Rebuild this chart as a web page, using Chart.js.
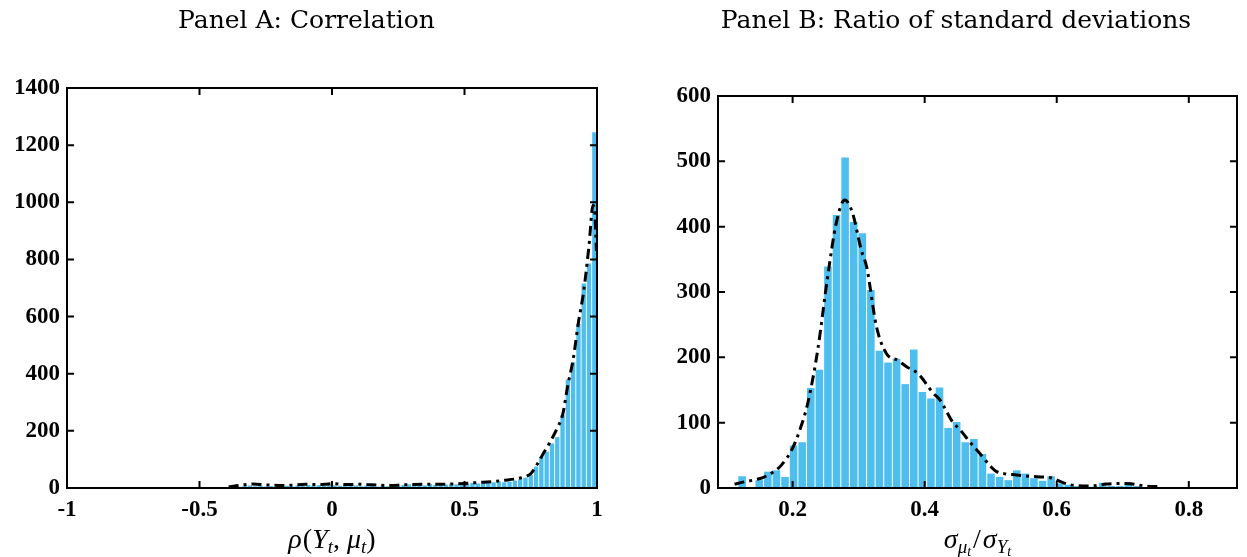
<!DOCTYPE html>
<html><head><meta charset="utf-8">
<script src="https://cdn.jsdelivr.net/npm/chart.js@4.4.0/dist/chart.umd.min.js"></script>
<style>
html,body{margin:0;padding:0;background:#fff;overflow:hidden;width:1247px;height:557px;}
#wrapA{position:absolute;left:0;top:0;width:620px;height:557px;}
#wrapB{position:absolute;left:660px;top:0;width:587px;height:557px;}
canvas{display:block;}
</style></head><body>
<div id="wrapA"><canvas id="cA" width="620" height="557"></canvas></div>
<div id="wrapB"><canvas id="cB" width="587" height="557"></canvas></div>
<script>
// ---------- Panel A: Correlation ----------
const binsA = [-0.39,-0.37,-0.35,-0.33,-0.31,-0.29,-0.27,-0.25,-0.23,-0.21,-0.19,-0.17,-0.15,-0.13,-0.11,-0.09,-0.07,-0.05,-0.03,-0.01,
  0.01,0.03,0.05,0.07,0.09,0.11,0.13,0.15,0.17,0.19,0.21,0.23,0.25,0.27,0.29,0.31,0.33,0.35,0.37,0.39,
  0.41,0.43,0.45,0.47,0.49,0.51,0.53,0.55,0.57,0.59,0.61,0.63,0.65,0.67,0.69,0.71,0.73,0.75,0.77,0.79,
  0.81,0.83,0.85,0.87,0.89,0.91,0.93,0.95,0.97,0.99];
const countsA = [3,5,4,7,9,6,8,5,7,4,
  6,8,5,9,7,11,8,10,7,12,
  9,8,11,7,9,6,8,7,5,8,
  6,4,9,11,13,10,12,9,14,11,
  13,12,15,13,17,14,18,16,19,21,
  20,23,20,22,26,30,36,45,75,110,
  127,156,178,255,380,440,575,716,786,1245];
const kdeXA = [-0.39,-0.35,-0.3,-0.25,-0.2,-0.15,-0.1,-0.05,0,0.05,0.1,0.15,0.2,0.25,0.3,0.35,0.4,0.45,0.5,0.55,0.6,0.65,0.7,0.73,0.75,0.78,0.8,0.82,0.85,0.87,0.89,0.91,0.93,0.95,0.97,0.985,0.992,0.998];
const kdeYA = [4,9,14,11,9,10,13,12,15,12,13,11,9,10,12,13,13,14,16,19,22,27,33,40,50,92,125,156,210,255,360,450,580,690,850,990,960,830];
const xTicksA = [-1,-0.5,0,0.5,1];
const xTickLabelsA = ['-1','-0.5','0','0.5','1'];
const yTicksA = [0,200,400,600,800,1000,1200,1400];

// ---------- Panel B: Ratio of standard deviations ----------
const binsB = [0.1235,0.1365,0.1495,0.1625,0.1755,0.1885,0.2015,0.2145,0.2275,0.2405,
  0.2535,0.2665,0.2795,0.2925,0.3055,0.3185,0.3315,0.3445,0.3575,0.3705,
  0.3835,0.3965,0.4095,0.4225,0.4355,0.4485,0.4615,0.4745,0.4875,0.5005,
  0.5135,0.5265,0.5395,0.5525,0.5655,0.5785,0.5915,0.6045,0.6175,0.6305,
  0.6435,0.6565,0.6695,0.6825,0.6955,0.7085,0.7215,0.7345];
const countsB = [18,0,12,25,27,17,65,70,153,181,
  339,418,506,407,390,303,210,192,198,159,
  212,147,137,154,92,101,70,75,52,22,
  17,12,27,22,15,11,18,7,5,3,
  2,2,8,3,3,9,3,1];
const kdeXB = [0.112,0.125,0.14,0.155,0.17,0.183,0.2,0.212,0.223,0.238,0.253,0.266,0.279,0.291,0.304,0.312,0.327,0.342,0.36,0.372,0.39,0.413,0.423,0.443,0.453,0.467,0.481,0.5,0.509,0.52,0.539,0.557,0.574,0.594,0.605,0.62,0.65,0.675,0.705,0.735,0.755];
const kdeYB = [6,9,12,16,24,35,61,92,130,211,323,405,441,420,364,339,247,206,195,186,175,145,135,100,90,72,56,33,25,22,20,18,17,15,10,5,3,6,7,3,2];
const xTicksB = [0.2,0.4,0.6,0.8];
const xTickLabelsB = ['0.2','0.4','0.6','0.8'];
const yTicksB = [0,100,200,300,400,500,600];

const BAR_COLOR = '#4DBEEE';
const TICK_FONT = {family:'Liberation Serif', size:23, weight:'bold'};
const MATH_FONT = 'Liberation Serif';

function drawMath(ctx, runs, cx, baseline){
  let total = 0;
  const widths = runs.map(r=>{
    ctx.font = (r[1]==='i'?'italic ':'') + r[2] + 'px "' + MATH_FONT + '"';
    const w = ctx.measureText(r[0]).width + (r[4]||0);
    total += w; return w;
  });
  let x = cx - total/2;
  ctx.fillStyle = '#000';
  ctx.textBaseline = 'alphabetic';
  ctx.textAlign = 'left';
  runs.forEach((r,i)=>{
    ctx.font = (r[1]==='i'?'italic ':'') + r[2] + 'px "' + MATH_FONT + '"';
    ctx.fillText(r[0], x, baseline + r[3]);
    x += widths[i];
  });
}

function framePlugin(runs){
  return {
    id:'frame',
    afterDraw(chart){
      const {ctx, chartArea:a, scales:{x,y}} = chart;
      ctx.save();
      ctx.strokeStyle = '#000';
      ctx.lineWidth = 2;
      ctx.strokeRect(a.left, a.top, a.right-a.left, a.bottom-a.top);
      const L = 7;
      ctx.beginPath();
      x.ticks.forEach(t=>{
        const p = x.getPixelForValue(t.value);
        ctx.moveTo(p, a.bottom); ctx.lineTo(p, a.bottom-L);
        ctx.moveTo(p, a.top); ctx.lineTo(p, a.top+L);
      });
      y.ticks.forEach(t=>{
        const p = y.getPixelForValue(t.value);
        ctx.moveTo(a.left, p); ctx.lineTo(a.left+L, p);
        ctx.moveTo(a.right, p); ctx.lineTo(a.right-L, p);
      });
      ctx.stroke();
      drawMath(ctx, runs, (a.left+a.right)/2, 548);
      ctx.restore();
    }
  };
}

function makeChart(id, o){
  return new Chart(document.getElementById(id), {
    type:'bar',
    data:{datasets:[
      {type:'line', data:o.kx.map((x,i)=>({x:x, y:o.ky[i]})), borderColor:'#000', borderWidth:3,
       borderDash:[10,5,3,5], pointRadius:0, cubicInterpolationMode:'monotone', fill:false, order:0},
      {type:'bar', data:o.bx.map((x,i)=>({x:x, y:o.by[i]})), backgroundColor:BAR_COLOR, borderWidth:0,
       barPercentage:o.bp, categoryPercentage:1, order:1}
    ]},
    options:{
      responsive:false, animation:false, devicePixelRatio:1,
      layout:{padding:{left:o.padL, right:o.padR, top:0, bottom:0}},
      plugins:{
        legend:{display:false}, tooltip:{enabled:false},
        title:{display:true, text:o.title, color:'#000',
          font:{family:'DejaVu Serif', size:25, weight:'normal', lineHeight:1.2},
          padding:{top:6, bottom:o.titleGap}}
      },
      scales:{
        x:{type:'linear', min:o.xmin, max:o.xmax, offset:false,
          grid:{display:false, drawTicks:false}, border:{display:false},
          afterBuildTicks:s=>{ s.ticks = o.xt.map(v=>({value:v})); },
          afterFit:s=>{ s.height = 69; },
          ticks:{padding:8, color:'#000', font:TICK_FONT, maxRotation:0, autoSkip:false,
            callback:(v,i)=>o.xl[i]}},
        y:{type:'linear', min:0, max:o.ymax,
          grid:{display:false, drawTicks:false}, border:{display:false},
          afterBuildTicks:s=>{ s.ticks = o.yt.map(v=>({value:v})); },
          afterFit:s=>{ s.width = o.yw; },
          ticks:{padding:7, color:'#000', font:TICK_FONT, callback:v=>String(v)}}
      }
    },
    plugins:[framePlugin(o.math)]
  });
}

makeChart('cA', {
  title:'Panel A: Correlation', titleGap:52, padL:16, padR:23, yw:51,
  xmin:-1, xmax:1, ymax:1400, xt:xTicksA, xl:xTickLabelsA, yt:yTicksA,
  bx:binsA, by:countsA, kx:kdeXA, ky:kdeYA, bp:0.82,
  math:[['ρ','i',28,0,1],['(','n',28,0],['Y','i',28,0],['t','i',19,5],[', ','n',28,0],['μ','i',28,0],['t','i',19,5],[')','n',28,0]]
});
makeChart('cB', {
  title:'Panel B: Ratio of standard deviations', titleGap:60, padL:15, padR:10, yw:43,
  xmin:0.087, xmax:0.873, ymax:600, xt:xTicksB, xl:xTickLabelsB, yt:yTicksB,
  bx:binsB, by:countsB, kx:kdeXB, ky:kdeYB, bp:0.88,
  math:[['σ','i',28,0],['μ','i',19,5],['t','i',14,8,2],['/','n',28,0,2],['σ','i',28,0],['Y','i',19,5],['t','i',14,8]]
});
</script>
</body></html>
